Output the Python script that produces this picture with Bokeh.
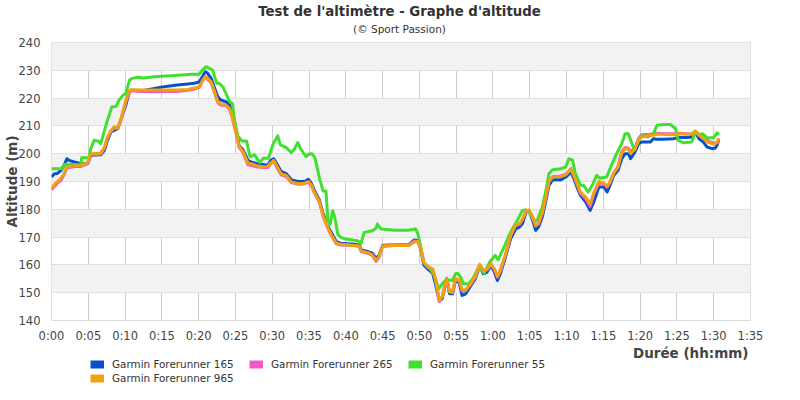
from bokeh.plotting import figure
from bokeh.layouts import column
from bokeh.models import (FixedTicker, Legend, LegendItem, ColumnDataSource, Range1d, Label)
from bokeh.embed import file_html
from bokeh.resources import INLINE

# ---------------- data ----------------
title_text = "Test de l'altimètre - Graphe d'altitude"
subtitle_text = "(© Sport Passion)"
x_title = "Durée (hh:mm)"
y_title = "Altitude (m)"

series_names = ["Garmin Forerunner 165", "Garmin Forerunner 265",
                "Garmin Forerunner 55", "Garmin Forerunner 965"]
series_colors = ["#0a50c8", "#f05ac8", "#40e030", "#f0a010"]

x_ticks = list(range(0, 100, 5))
x_tick_labels = ["0:00", "0:05", "0:10", "0:15", "0:20", "0:25", "0:30", "0:35",
                 "0:40", "0:45", "0:50", "0:55", "1:00", "1:05", "1:10", "1:15",
                 "1:20", "1:25", "1:30", "1:35"]
y_ticks = list(range(140, 250, 10))

minutes = [0.0, 0.4, 0.8, 1.3, 1.7, 2.1, 2.4, 3.1, 4.0, 4.9,
           5.35, 6.7, 7.2, 7.6, 8.1, 8.5, 9.0, 9.4, 10.1, 10.6,
           10.8, 12.2, 14.0, 15.3, 17.1, 18.5, 19.4, 20.1, 20.5, 20.9,
           21.2, 21.7, 22.1, 22.6, 23.0, 23.7, 24.2, 24.6, 25.1, 25.5,
           26.0, 26.7, 27.1, 28.0, 28.9, 29.4, 29.8, 30.2, 30.7, 31.2,
           31.9, 32.6, 33.5, 34.4, 34.9, 35.3, 35.7, 36.4, 36.9, 37.3,
           37.8, 38.2, 38.7, 39.3, 41.2, 41.8, 42.1, 43.0, 43.6, 44.1,
           44.5, 45.0, 45.7, 47.5, 48.6, 49.3, 49.8, 50.2, 50.6, 51.1,
           51.8, 52.2, 52.7, 53.1, 53.7, 54.1, 54.5, 54.9, 55.4, 55.8,
           56.3, 57.0, 57.6, 58.2, 58.7, 59.2, 59.7, 60.2, 60.6, 61.0,
           61.7, 62.4, 63.1, 63.6, 64.0, 64.5, 64.9, 65.4, 65.8, 66.2,
           66.7, 67.2, 67.6, 68.1, 69.2, 69.9, 70.6, 71.0, 71.5, 71.9,
           72.6, 73.2, 73.7, 74.4, 75.1, 75.5, 75.9, 76.4, 77.0, 77.5,
           77.95, 78.4, 78.7, 79.3, 79.8, 80.2, 81.4, 81.8, 82.3, 83.2,
           84.5, 85.2, 86.4, 87.0, 87.5, 88.0, 88.6, 89.1, 89.8, 90.2,
           90.45, 90.7]

alt_165 = [191.6, 192.8, 192.9, 194.0, 195.8, 198.2, 197.6, 197.0, 196.4, 196.4,
           199.4, 199.6, 201.2, 204.8, 207.8, 208.4, 209.0, 212.0, 217.5, 222.3,
           222.8, 222.6, 223.5, 224.1, 224.7, 225.1, 225.3, 225.9, 227.7, 229.5,
           229.0, 227.1, 224.1, 220.5, 219.3, 218.7, 217.5, 215.1, 208.4, 202.8,
           201.6, 197.6, 197.0, 196.4, 196.0, 195.8, 197.6, 198.2, 196.0, 193.6,
           192.8, 190.6, 190.0, 190.0, 190.8, 189.4, 187.0, 183.4, 178.6, 175.6,
           172.6, 170.8, 168.4, 167.8, 167.4, 167.2, 165.4, 164.8, 164.2, 162.4,
           163.4, 167.0, 167.2, 167.2, 167.4, 169.0, 168.8, 165.4, 160.0, 158.6,
           157.0, 153.0, 147.0, 147.8, 155.0, 149.6, 149.6, 154.4, 153.6, 149.0,
           149.6, 152.6, 155.0, 159.8, 156.8, 157.4, 159.8, 157.4, 154.4, 156.8,
           162.8, 169.4, 173.0, 173.6, 174.8, 179.0, 179.4, 176.0, 172.4, 173.6,
           177.2, 183.2, 188.6, 190.6, 190.6, 191.6, 193.4, 191.0, 187.4, 185.0,
           182.6, 179.6, 182.6, 188.0, 188.0, 186.2, 188.6, 192.2, 194.0, 198.2,
           200.0, 200.0, 198.2, 200.6, 203.6, 204.2, 204.2, 205.4, 205.2, 205.2,
           205.4, 205.8, 205.8, 206.0, 207.8, 205.4, 204.2, 202.4, 201.8, 202.0,
           203.0, 205.1]

alt_265 = [187.0, 188.2, 189.4, 190.4, 192.4, 195.0, 195.0, 195.4, 195.4, 196.4,
           199.6, 199.8, 202.0, 205.6, 208.0, 209.2, 209.0, 211.6, 218.6, 222.2,
           222.6, 222.4, 222.3, 222.4, 222.4, 222.8, 223.2, 223.9, 226.0, 227.5,
           226.8, 225.4, 222.4, 218.4, 217.5, 217.2, 216.0, 212.6, 207.2, 202.2,
           200.6, 196.0, 195.8, 195.2, 195.0, 195.0, 196.6, 197.2, 194.8, 192.4,
           191.8, 189.6, 189.0, 189.2, 189.8, 188.6, 186.0, 182.6, 177.6, 174.8,
           171.8, 169.8, 167.6, 167.2, 167.0, 166.6, 164.8, 164.2, 163.4, 161.2,
           162.6, 166.6, 166.8, 167.2, 167.4, 168.6, 168.4, 165.8, 160.8, 159.2,
           158.2, 154.6, 146.8, 148.4, 155.2, 150.2, 150.0, 154.8, 154.4, 150.6,
           150.8, 153.2, 155.6, 160.0, 157.8, 158.2, 160.2, 158.4, 155.6, 157.8,
           163.6, 170.4, 174.4, 174.6, 176.2, 179.4, 179.6, 177.0, 174.0, 174.8,
           178.6, 184.4, 189.8, 191.8, 192.0, 192.6, 194.6, 192.0, 188.4, 185.8,
           183.8, 181.0, 185.4, 189.6, 189.2, 188.0, 189.6, 193.0, 195.4, 200.8,
           202.2, 202.0, 200.8, 202.0, 205.6, 206.8, 207.0, 207.2, 207.4, 207.2,
           207.2, 207.4, 207.2, 207.0, 208.0, 207.0, 206.2, 204.8, 204.0, 203.8,
           204.0, 205.6]

alt_965 = [187.5, 189.0, 190.0, 191.2, 192.8, 195.2, 195.4, 195.6, 195.8, 196.8,
           200.0, 200.2, 202.4, 206.0, 208.4, 209.6, 209.4, 212.0, 219.3, 222.6,
           223.0, 222.9, 222.9, 222.9, 222.9, 223.1, 223.6, 224.1, 226.2, 227.8,
           227.1, 225.9, 222.9, 218.7, 217.8, 217.5, 216.3, 213.0, 207.6, 202.6,
           201.0, 196.6, 196.4, 195.6, 195.2, 195.4, 196.8, 197.6, 195.2, 192.8,
           192.2, 189.8, 189.2, 189.4, 190.0, 188.8, 186.2, 182.8, 177.8, 175.0,
           172.0, 170.0, 167.8, 167.4, 167.0, 166.8, 165.0, 164.4, 163.6, 161.6,
           163.0, 166.8, 167.0, 167.0, 167.0, 168.2, 168.4, 166.0, 161.0, 159.4,
           158.6, 155.0, 147.2, 148.6, 154.8, 150.4, 150.2, 155.0, 154.6, 151.0,
           151.0, 153.4, 155.8, 160.2, 158.0, 158.4, 160.4, 158.6, 155.8, 158.0,
           163.8, 170.6, 174.6, 174.8, 176.4, 179.6, 179.8, 177.2, 174.2, 175.0,
           178.8, 184.6, 190.0, 191.6, 191.8, 192.4, 194.4, 192.2, 188.8, 186.2,
           184.4, 182.0, 186.0, 190.0, 189.4, 188.2, 189.8, 193.0, 195.2, 200.4,
           201.8, 201.6, 200.2, 201.6, 205.0, 206.0, 206.6, 206.6, 207.0, 207.0,
           206.8, 207.2, 207.0, 207.2, 208.2, 206.6, 205.6, 204.2, 203.6, 203.6,
           204.0, 205.4]

minutes_55 = [0.0, 1.5, 1.7, 4.0, 4.1, 5.1, 5.35, 5.8, 6.3, 6.7,
              7.2, 7.6, 8.2, 8.75, 9.2, 9.7, 10.1, 10.6, 11.0, 11.7,
              12.5, 14.0, 16.7, 19.0, 20.1, 20.5, 21.0, 21.45, 21.9, 22.1,
              22.45, 22.8, 23.3, 23.7, 24.2, 24.6, 24.85, 25.3, 25.9, 26.5,
              26.8, 27.0, 27.6, 28.3, 28.8, 29.5, 30.1, 30.75, 31.1, 31.9,
              32.6, 33.0, 33.46, 33.9, 34.6, 34.9, 35.4, 35.8, 36.4, 36.9,
              37.3, 37.6, 37.9, 38.2, 38.5, 38.9, 39.3, 40.0, 41.6, 42.06,
              42.5, 43.6, 44.1, 44.3, 44.8, 46.6, 48.4, 49.5, 49.8, 50.2,
              50.6, 51.3, 52.0, 52.6, 53.1, 53.5, 54.0, 54.5, 54.9, 55.2,
              55.6, 56.0, 56.7, 57.4, 58.1, 58.8, 59.6, 60.3, 60.7, 61.5,
              62.4, 63.3, 64.0, 64.4, 64.9, 65.6, 66.0, 66.7, 67.2, 67.6,
              68.1, 69.2, 69.9, 70.3, 70.8, 71.2, 71.6, 71.9, 72.3, 72.95,
              73.6, 74.1, 74.5, 75.45, 76.1, 76.8, 77.5, 77.95, 78.4, 78.9,
              79.2, 79.6, 80.2, 81.1, 81.8, 82.3, 83.2, 84.1, 84.8, 85.2,
              85.9, 87.0, 87.5, 88.0, 88.5, 89.1, 90.0, 90.45, 90.7]

alt_55 = [194.6, 194.6, 196.2, 196.0, 198.5, 198.6, 202.0, 204.8, 204.6, 203.6,
          208.4, 212.0, 216.9, 217.0, 219.3, 221.0, 221.6, 226.5, 227.1, 227.5,
          227.2, 227.7, 228.1, 228.6, 228.6, 230.1, 231.3, 230.7, 230.1, 228.3,
          225.3, 225.3, 224.0, 221.7, 218.7, 218.0, 212.0, 206.4, 204.6, 204.6,
          201.0, 198.9, 199.6, 196.8, 198.4, 198.4, 203.4, 206.4, 203.2, 202.2,
          200.4, 201.6, 204.0, 201.6, 198.9, 199.8, 200.0, 198.6, 191.4, 186.6,
          186.6, 174.7, 174.7, 179.5, 177.1, 171.1, 169.9, 169.3, 168.7, 167.7,
          171.7, 172.3, 173.2, 174.7, 172.9, 172.5, 172.5, 172.9, 171.1, 166.3,
          160.8, 159.1, 156.4, 151.4, 153.2, 154.4, 154.6, 154.4, 156.8, 157.0,
          155.6, 153.2, 153.2, 155.6, 159.6, 157.0, 161.2, 163.4, 161.8, 166.4,
          171.8, 176.0, 179.6, 179.8, 179.0, 176.0, 176.0, 180.8, 186.8, 192.8,
          194.2, 194.6, 195.2, 198.2, 197.8, 192.8, 190.4, 188.6, 188.6, 186.2,
          189.2, 192.2, 191.2, 191.6, 195.8, 200.0, 203.6, 207.2, 207.2, 203.6,
          201.2, 203.6, 206.6, 206.0, 207.2, 210.2, 210.5, 210.5, 209.0, 204.8,
          203.9, 204.2, 207.8, 206.6, 207.2, 205.7, 205.7, 207.5, 206.8]

FONT = "DejaVu Sans"
BORDER_L, BORDER_R = 51, 50


def strip(height):
    f = figure(width=800, height=height, output_backend="svg", toolbar_location=None,
               x_range=Range1d(0, 699), y_range=Range1d(0, height),
               x_axis_type=None, y_axis_type=None,
               min_border_left=BORDER_L, min_border_right=BORDER_R,
               min_border_top=0, min_border_bottom=0)
    f.grid.visible = False
    f.outline_line_color = None
    f.background_fill_color = "white"
    f.border_fill_color = "white"
    return f


# ---------------- header (title + subtitle) ----------------
head = strip(36)
head.add_layout(Label(x=348, y=25, x_units="screen", y_units="screen", text=title_text,
                      text_align="center", text_baseline="middle", text_font=FONT,
                      text_font_size="13.3px", text_font_style="bold",
                      text_color="#333333"))
head.add_layout(Label(x=348, y=8, x_units="screen", y_units="screen", text=subtitle_text,
                      text_align="center", text_baseline="middle", text_font=FONT,
                      text_font_size="10.5px", text_color="#333333"))

# ---------------- main chart ----------------
p = figure(width=800, height=309, output_backend="svg", toolbar_location=None,
           title=None,
           x_range=Range1d(0, 95), y_range=Range1d(140, 240),
           min_border_left=BORDER_L, min_border_right=BORDER_R, min_border_top=6,
           min_border_bottom=25)
p.background_fill_color = "white"
p.border_fill_color = "white"
p.outline_line_color = "#dddddd"

p.xaxis.ticker = FixedTicker(ticks=x_ticks)
p.xaxis.major_label_overrides = dict(zip(x_ticks, x_tick_labels))
p.yaxis.ticker = FixedTicker(ticks=y_ticks)
for ax in (p.xaxis[0], p.yaxis[0]):
    ax.axis_line_color = None
    ax.major_tick_line_color = None
    ax.minor_tick_line_color = None
    ax.major_tick_out = 0
    ax.major_tick_in = 0
    ax.major_label_text_font = FONT
    ax.major_label_text_font_size = "11.5px"
    ax.major_label_text_color = "#444444"
    ax.axis_label_text_font = FONT
    ax.axis_label_text_font_size = "13.5px"
    ax.axis_label_text_font_style = "bold"
    ax.axis_label_text_color = "#444444"
p.yaxis.major_label_standoff = 11
p.xaxis.major_label_standoff = 8
p.yaxis.axis_label = y_title
p.yaxis.axis_label_standoff = -4

p.xgrid.ticker = FixedTicker(ticks=x_ticks)
p.ygrid.ticker = FixedTicker(ticks=y_ticks)
p.xgrid.grid_line_color = "#cccccc"
p.ygrid.grid_line_color = "#e0e0e0"
p.ygrid.band_fill_color = "#f2f2f2"
p.ygrid.band_fill_alpha = 1.0

xs_list = [minutes, minutes, minutes_55, minutes]
ys_list = [alt_165, alt_265, alt_55, alt_965]
for name, color, xs, ys in zip(series_names, series_colors, xs_list, ys_list):
    src = ColumnDataSource(data=dict(t=xs, alt=ys))
    p.line("t", "alt", source=src, line_color=color, line_width=3, line_join="round")

# ---------------- bottom strip (x-axis title + legend) ----------------
leg = strip(55)
items = []
for name, color, xs, ys in zip(series_names, series_colors, xs_list, ys_list):
    # legend key renderers: same series, lying outside this strip's visible range
    proxy = leg.line(x=xs, y=ys, line_color=color, line_width=8, line_cap="butt")
    items.append(LegendItem(label=name, renderers=[proxy]))

legend = Legend(items=items, ncols=3, orientation="horizontal", location=(39, 16),
                glyph_width=14, glyph_height=12, label_height=12, label_standoff=8,
                label_width=135, spacing=2, padding=0, margin=0,
                border_line_alpha=0, background_fill_alpha=0,
                label_text_font=FONT, label_text_font_size="10.4px",
                label_text_color="#333333")
leg.add_layout(legend)

leg.add_layout(Label(x=697, y=48, x_units="screen", y_units="screen", text=x_title,
                     text_align="right", text_baseline="middle", text_font=FONT,
                     text_font_size="13.5px", text_font_style="bold",
                     text_color="#444444"))

layout = column(head, p, leg, spacing=0)
open("out.html", "w").write(file_html(layout, INLINE))
